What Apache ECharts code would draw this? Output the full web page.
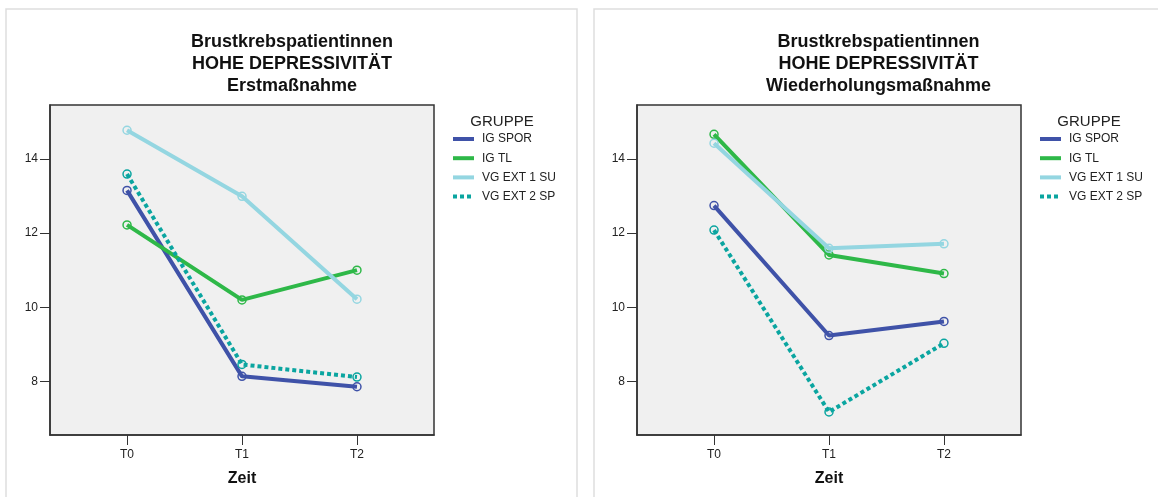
<!DOCTYPE html>
<html>
<head>
<meta charset="utf-8">
<title>Brustkrebspatientinnen – Hohe Depressivität</title>
<script src="https://cdn.jsdelivr.net/npm/echarts@6/dist/echarts.min.js"></script>
<style>
  html, body { margin: 0; padding: 0; background: #ffffff; }
  #chart { width: 1158px; height: 497px; }
</style>
</head>
<body>
<div id="chart"></div>
<script>
// Measurement times (x axis) and y tick values
const zeitLabels = ['T0', 'T1', 'T2'];
const yTicks = [8, 10, 12, 14];

// Group names and colours
const gruppen = ['IG SPOR', 'IG TL', 'VG EXT 1 SU', 'VG EXT 2 SP'];
const farben = ['#3f52a8', '#2eb848', '#94d6e1', '#0aa5a0'];

// Mean depressivity scores – Erstmaßnahme
const igSporErst = [13.15, 8.14, 7.86];
const igTlErst = [12.22, 10.20, 11.00];
const vgExt1SuErst = [14.77, 12.99, 10.22];
const vgExt2SpErst = [13.59, 8.46, 8.12];

// Mean depressivity scores – Wiederholungsmaßnahme
const igSporWdh = [12.74, 9.24, 9.62];
const igTlWdh = [14.66, 11.41, 10.91];
const vgExt1SuWdh = [14.42, 11.59, 11.71];
const vgExt2SpWdh = [12.08, 7.18, 9.03];

const panels = [
  { untertitel: 'Erstmaßnahme', werte: [igSporErst, igTlErst, vgExt1SuErst, vgExt2SpErst] },
  { untertitel: 'Wiederholungsmaßnahme', werte: [igSporWdh, igTlWdh, vgExt1SuWdh, vgExt2SpWdh] }
];

const FONT = '"Liberation Sans", Arial, Helvetica, sans-serif';
const panelLeft = [6, 594];
const gridLeft = [50, 637];
const gridWidth = 384;

const chart = echarts.init(document.getElementById('chart'), null, { renderer: 'canvas' });

const titles = [];
const grids = [];
const xAxes = [];
const yAxes = [];
const legends = [];
const series = [];
const graphics = [];

panels.forEach(function (p, i) {
  const gl = gridLeft[i];
  const titleCenter = [292, 878.5][i];

  graphics.push({
    type: 'rect',
    silent: true,
    shape: { x: panelLeft[i], y: 9, width: i === 0 ? 571 : 620, height: 520 },
    style: { fill: 'none', stroke: '#dedede', lineWidth: 1.5 },
    z: -10
  });

  titles.push({
    text: 'Brustkrebspatientinnen\nHOHE DEPRESSIVITÄT\n' + p.untertitel,
    left: titleCenter,
    top: 31,
    textAlign: 'center',
    padding: 0,
    textStyle: { fontFamily: FONT, fontSize: 18, fontWeight: 'bold', color: '#111', lineHeight: 22 }
  });
  titles.push({
    text: 'GRUPPE',
    left: gl + gridWidth + 68,
    top: 114,
    textAlign: 'center',
    padding: 0,
    textStyle: { fontFamily: FONT, fontSize: 15, fontWeight: 'normal', color: '#222' }
  });

  grids.push({
    left: gl, top: 105, width: gridWidth, height: 330,
    show: true, backgroundColor: '#f0f0f0', borderColor: '#333', borderWidth: 1.5
  });

  xAxes.push({
    type: 'value', gridIndex: i, min: -0.67, max: 2.67,
    name: 'Zeit', nameLocation: 'middle', nameGap: 36,
    nameTextStyle: { fontFamily: FONT, fontSize: 16, fontWeight: 'bold', color: '#111' },
    splitLine: { show: false },
    axisLine: { show: true, onZero: false, lineStyle: { color: '#333', width: 1.5 } },
    axisTick: { show: true, length: 10, customValues: [0, 1, 2], lineStyle: { color: '#333', width: 1 } },
    axisLabel: {
      customValues: [0, 1, 2], margin: 14,
      fontFamily: FONT, fontSize: 12, color: '#222',
      formatter: function (v) { return zeitLabels[Math.round(v)] || ''; }
    }
  });

  yAxes.push({
    type: 'value', gridIndex: i, min: 6.56, max: 15.45,
    position: 'left',
    splitLine: { show: false },
    axisLine: { show: true, onZero: false, lineStyle: { color: '#333', width: 1.5 } },
    axisTick: { show: true, length: 10, customValues: yTicks, lineStyle: { color: '#333', width: 1 } },
    axisLabel: { customValues: yTicks, margin: 12, fontFamily: FONT, fontSize: 12, color: '#222' }
  });

  legends.push({
    orient: 'vertical',
    left: gl + gridWidth + 17,
    top: 133,
    itemWidth: 21,
    itemHeight: 12,
    itemGap: 7.2,
    padding: 0,
    selectedMode: false,
    data: gruppen,
    itemStyle: { opacity: 0 },
    lineStyle: { width: 4, cap: 'butt' },
    textStyle: { fontFamily: FONT, fontSize: 12, color: '#222', padding: [0, 0, 0, 3] }
  });

  p.werte.forEach(function (werte, s) {
    const dotted = s === 3;
    series.push({
      type: 'line',
      name: gruppen[s],
      xAxisIndex: i,
      yAxisIndex: i,
      data: werte.map(function (v, k) { return [k, v]; }),
      symbol: 'circle',
      symbolSize: 8,
      itemStyle: { color: 'transparent', borderColor: farben[s], borderWidth: 1.5 },
      lineStyle: {
        color: farben[s],
        width: 4,
        type: dotted ? [4, 3] : 'solid',
        cap: 'butt'
      },
      emphasis: { disabled: true },
      z: 2 + s
    });
  });
});

chart.setOption({
  animation: false,
  backgroundColor: '#ffffff',
  title: titles,
  grid: grids,
  xAxis: xAxes,
  yAxis: yAxes,
  legend: legends,
  series: series,
  graphic: graphics
});
</script>
</body>
</html>
